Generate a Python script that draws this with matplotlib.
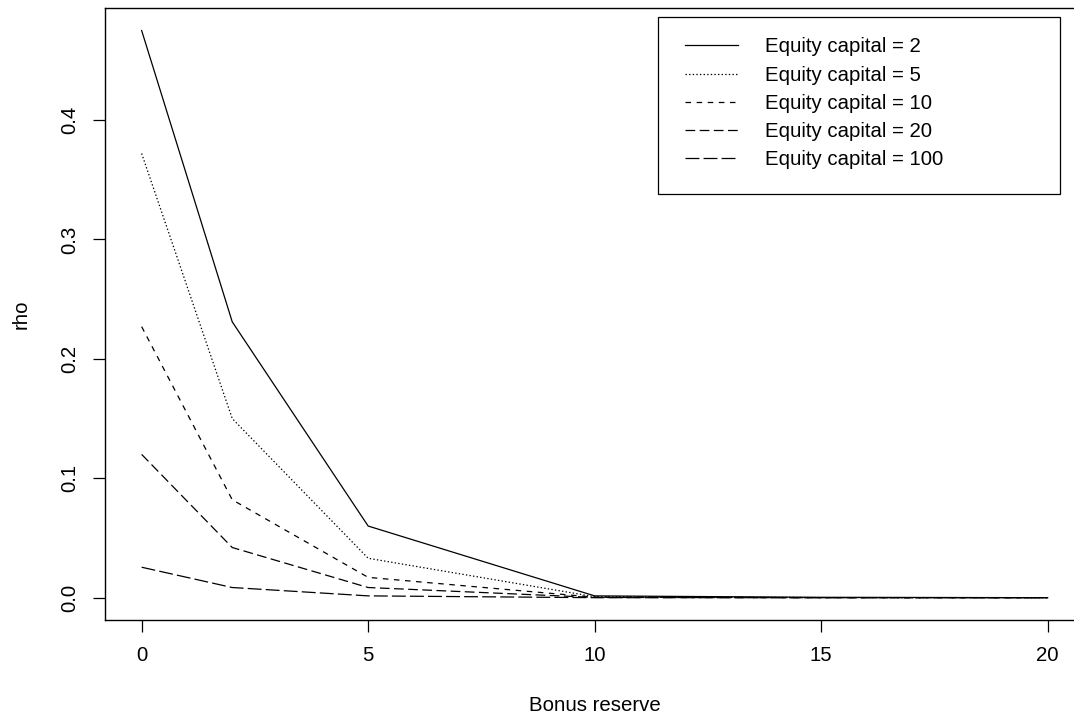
import numpy as np
import matplotlib
matplotlib.use("Agg")
import matplotlib.pyplot as plt
from matplotlib.patches import Rectangle

plt.rcParams['font.family'] = ['Liberation Sans', 'DejaVu Sans']
plt.rcParams['lines.scale_dashes'] = False

bonus = [0, 2, 5, 10, 15, 20]
rho_ec2 = [0.475, 0.231, 0.060, 0.0015, 0.0003, 0.0]
rho_ec5 = [0.372, 0.150, 0.033, 0.0008, 0.0001, 0.0]
rho_ec10 = [0.227, 0.082, 0.017, 0.0004, 0.0, 0.0]
rho_ec20 = [0.120, 0.042, 0.0085, 0.0002, 0.0, 0.0]
rho_ec100 = [0.0255, 0.0085, 0.0015, 0.0, 0.0, 0.0]

labels = ["Equity capital = 2", "Equity capital = 5", "Equity capital = 10",
          "Equity capital = 20", "Equity capital = 100"]
series = [rho_ec2, rho_ec5, rho_ec10, rho_ec20, rho_ec100]
styles = ["-", (0, (1.0, 1.6)), (0, (4, 4)), (0, (7, 3.2)), (0, (10, 3))]

W, H = 1074, 717
fig = plt.figure(figsize=(W / 100, H / 100), dpi=100)
ax = fig.add_axes([105.4 / W, (H - 620) / H, 978.5 / W, 611.7 / H])

for vals, ls, lab in zip(series, styles, labels):
    ax.plot(bonus, vals, color="black", linewidth=0.9, linestyle=ls, label=lab)

ax.set_xlim(-0.8, 20.8)
ax.set_ylim(-0.0187, 0.4936)
ax.set_xticks([0, 5, 10, 15, 20])
ax.set_yticks([0.0, 0.1, 0.2, 0.3, 0.4])
ax.set_yticklabels(["0.0", "0.1", "0.2", "0.3", "0.4"], rotation=90, va="center")
ax.tick_params(axis="both", direction="out", length=8.6, width=0.9, labelsize=14.7, pad=10)
for sp in ax.spines.values():
    sp.set_linewidth(1.0)
ax.spines["right"].set_visible(False)

ax.set_xlabel("Bonus reserve", fontsize=14.7)
ax.xaxis.set_label_coords(0.5, -0.124)
ax.set_ylabel("rho", fontsize=14.7)
ax.yaxis.set_label_coords(-0.076, 0.5)

# legend frame drawn separately so the entries can sit where R puts them
fig.patches.append(Rectangle((658 / W, 1 - 194 / H), (1060 - 658) / W, (194 - 17) / H,
                             transform=fig.transFigure, fill=False,
                             edgecolor="black", linewidth=0.9))
leg = ax.legend(loc="upper left", bbox_to_anchor=(685 / W, 1 - 37.5 / H),
                bbox_transform=fig.transFigure, borderaxespad=0, borderpad=0,
                fontsize=14.7, handlelength=2.6, handletextpad=1.3,
                labelspacing=0.45, frameon=False)

fig.savefig("out.png", dpi=100)
